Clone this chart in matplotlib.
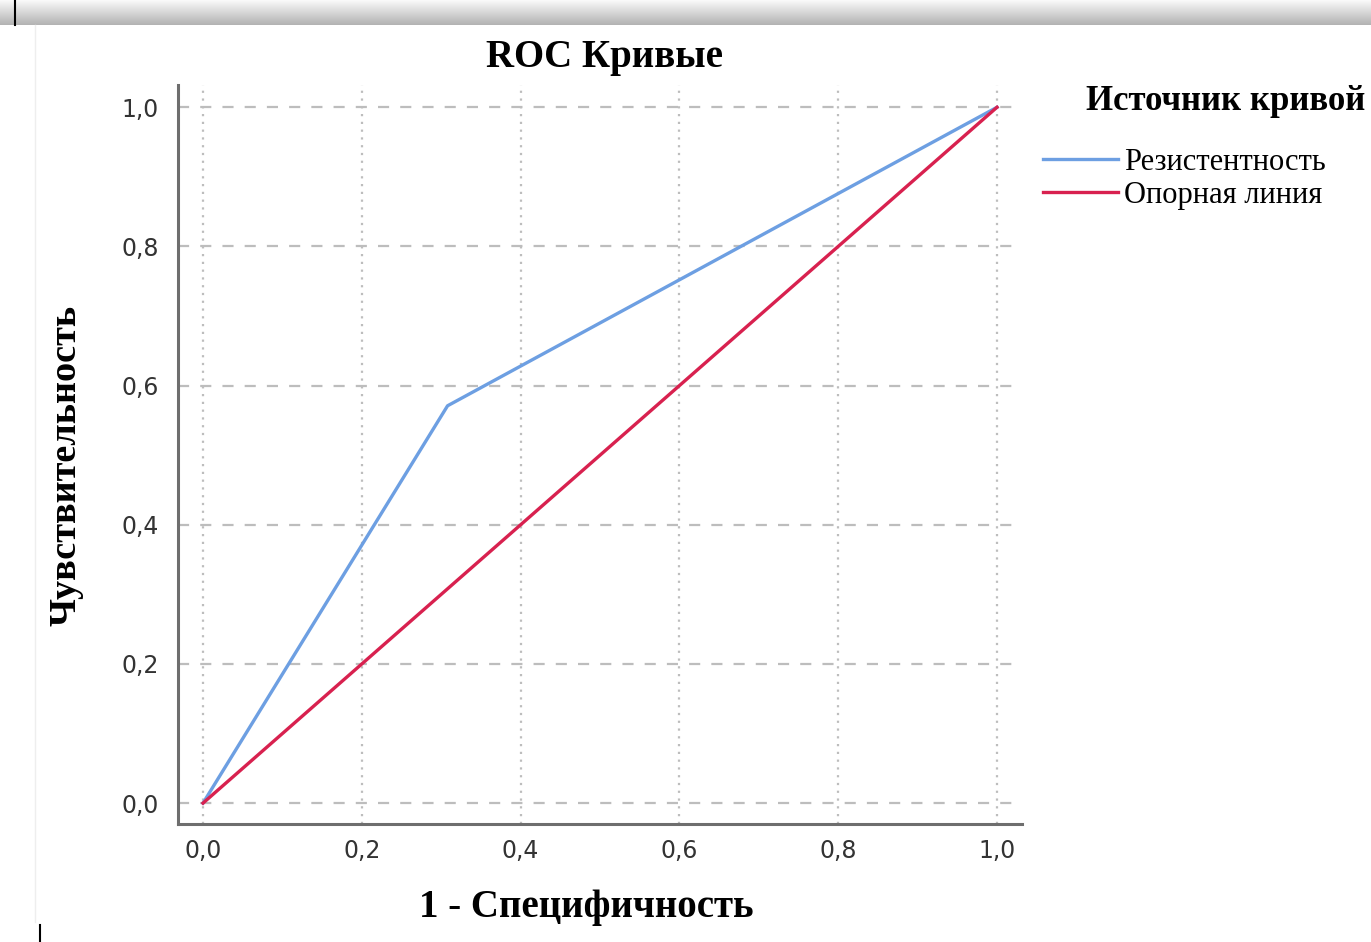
import numpy as np
import matplotlib.pyplot as plt

# данные ROC-кривой
fpr = [0.0, 0.308, 1.0]
tpr = [0.0, 0.571, 1.0]
ref_x = [0.0, 1.0]
ref_y = [0.0, 1.0]
ticks = [0.0, 0.2, 0.4, 0.6, 0.8, 1.0]
tick_labels = ["0,0", "0,2", "0,4", "0,6", "0,8", "1,0"]

BLUE = "#6d9fe2"
RED = "#d8214f"
serif = "Liberation Serif"
W, H = 1371, 942

fig = plt.figure(figsize=(W / 100, H / 100), dpi=100)

# серая полоса сверху (рамка скриншота)
grad = np.linspace(0.98, 0.70, 50).reshape(-1, 1)
band = fig.add_axes([0.0, 1 - 25 / H, 1.0, 25 / H])
band.imshow(np.dstack([grad] * 3), aspect="auto", extent=[0, 1, 0, 1])
band.axis("off")
fig.add_artist(plt.Line2D([15 / W, 15 / W], [1 - 25 / H, 1.0], color="black", lw=1.5))
fig.add_artist(plt.Line2D([40 / W, 40 / W], [0.0, 17 / H], color="black", lw=1.5))
fig.add_artist(plt.Line2D([35 / W, 35 / W], [20 / H, 1 - 25 / H], color="#eeeeee", lw=1))

ax = fig.add_axes([178 / W, 1 - 824 / H, 844 / W, 739 / H])
ax.set_xlim(-0.0315, 1.0315)
ax.set_ylim(-0.030, 1.032)

for t in ticks:
    ax.axvline(t, color="#bdbdbd", lw=1.6, ls=(0, (1, 2.5)), zorder=1)
    ax.axhline(t, color="#bdbdbd", lw=1.6, ls=(0, (5, 5)), zorder=1)

ax.plot(fpr, tpr, color=BLUE, lw=2.4, label="Резистентность", zorder=3)
ax.plot(ref_x, ref_y, color=RED, lw=2.4, label="Опорная линия", zorder=3)

ax.set_xticks(ticks)
ax.set_xticklabels(tick_labels)
ax.set_yticks(ticks)
ax.set_yticklabels(tick_labels)
ax.tick_params(length=0, labelsize=17, colors="#333333")
ax.tick_params(axis="x", pad=11)
ax.tick_params(axis="y", pad=14)
for lab in ax.get_xticklabels() + ax.get_yticklabels():
    lab.set_fontfamily("DejaVu Sans")

for s in ["top", "right"]:
    ax.spines[s].set_visible(False)
for s in ["left", "bottom"]:
    ax.spines[s].set_color("#6e6e6e")
    ax.spines[s].set_linewidth(2.2)

fig.text(605 / W, 1 - 57 / H, "ROC Кривые", family=serif, weight="bold",
         fontsize=28, ha="center", va="center")
fig.text(66 / W, 1 - 465 / H, "Чувствительность", family=serif, weight="bold",
         fontsize=27.5, ha="center", va="center", rotation=90)
fig.text(586 / W, 1 - 907 / H, "1 - Специфичность", family=serif, weight="bold",
         fontsize=28, ha="center", va="center")

# легенда
fig.text(1365 / W, 1 - 102 / H, "Источник кривой", family=serif, weight="bold",
         fontsize=25, ha="right", va="center")
leg = ax.legend(loc="upper left", bbox_to_anchor=(1043 / W, 1 - 148 / H),
                bbox_transform=fig.transFigure, frameon=False,
                prop={"family": serif, "size": 22}, borderpad=0, borderaxespad=0,
                handlelength=2.45, handletextpad=0.2, labelspacing=0.12)

fig.savefig("out.png", dpi=100, facecolor="white")
